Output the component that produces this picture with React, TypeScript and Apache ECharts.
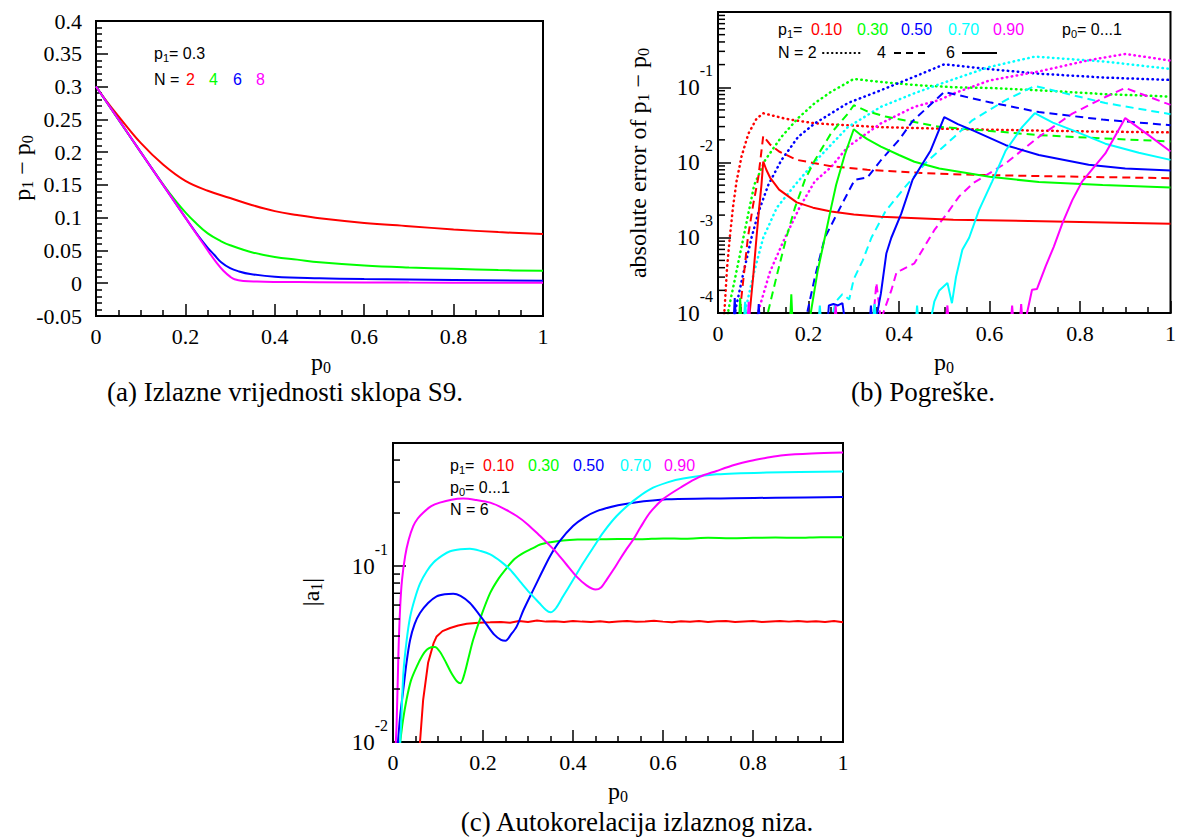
import React, { useEffect, useRef } from "react";
import * as echarts from "echarts";

const RED = "#ff0000";
const GREEN = "#00ff00";
const BLUE = "#0000ff";
const CYAN = "#00ffff";
const MAGENTA = "#ff00ff";

const SERIF = "Liberation Serif";
const SANS = "Liberation Sans";

// ---------- Panel (a): p1 - p0 vs p0, p1 = 0.3 ----------
const aN2 = [[0,0.3],[0.02,0.281],[0.05,0.255],[0.1,0.214],[0.15,0.181],[0.2,0.156],[0.25,0.141],[0.3,0.130],[0.35,0.119],[0.4,0.110],[0.45,0.104],[0.5,0.099],[0.6,0.092],[0.7,0.087],[0.8,0.082],[0.9,0.078],[1,0.075]];
const aN4 = [[0,0.3],[0.05,0.25],[0.1,0.2],[0.15,0.151],[0.18,0.124],[0.2,0.108],[0.22,0.094],[0.25,0.076],[0.28,0.064],[0.3,0.058],[0.35,0.047],[0.4,0.040],[0.45,0.036],[0.5,0.032],[0.6,0.027],[0.7,0.024],[0.8,0.022],[0.9,0.020],[1,0.019]];
const aN6 = [[0,0.3],[0.1,0.2],[0.2,0.1],[0.23,0.071],[0.25,0.054],[0.265,0.043],[0.28,0.032],[0.3,0.023],[0.32,0.018],[0.345,0.014],[0.4,0.0098],[0.5,0.0075],[0.6,0.0063],[0.8,0.005],[1,0.0038]];
const aN8 = [[0,0.3],[0.1,0.2],[0.2,0.1],[0.25,0.05],[0.27,0.031],[0.285,0.019],[0.3,0.010],[0.31,0.006],[0.33,0.0035],[0.36,0.0025],[0.4,0.002],[0.5,0.0015],[0.7,0.001],[1,0.0006]];

// ---------- Panel (b): absolute error, [p0, log10(error)] ----------
const bRedN2 = [[0.008,-4.5],[0.015,-3.9],[0.02,-3.4],[0.026,-3.0],[0.033,-2.6],[0.041,-2.25],[0.052,-1.92],[0.067,-1.62],[0.085,-1.42],[0.1,-1.345],[0.15,-1.42],[0.214,-1.48],[0.3,-1.51],[0.36,-1.53],[0.52,-1.555],[0.7,-1.575],[0.85,-1.59],[1,-1.6]];
const bRedN4 = [[0.04,-4.5],[0.048,-4.0],[0.057,-3.5],[0.066,-3.0],[0.078,-2.55],[0.089,-2.2],[0.095,-1.9],[0.1,-1.646],[0.115,-1.76],[0.135,-1.854],[0.174,-1.965],[0.25,-2.05],[0.33,-2.097],[0.45,-2.14],[0.565,-2.164],[0.8,-2.19],[1,-2.208]];
const bRedN6 = [[0,-4.5],[0.06,-4.3],[0.07,-4.0],[0.078,-3.5],[0.085,-3.0],[0.091,-2.6],[0.096,-2.3],[0.1,-1.987],[0.107,-2.1],[0.115,-2.2],[0.135,-2.36],[0.174,-2.53],[0.21,-2.6],[0.25,-2.65],[0.3,-2.69],[0.36,-2.72],[0.52,-2.76],[0.8,-2.79],[1,-2.814]];

const bGreenN2 = [[0.015,-4.5],[0.023,-3.96],[0.037,-3.56],[0.052,-3.12],[0.067,-2.68],[0.08,-2.3],[0.104,-1.97],[0.14,-1.66],[0.177,-1.41],[0.214,-1.21],[0.25,-1.06],[0.3,-0.89],[0.36,-0.93],[0.434,-0.97],[0.52,-1.0],[0.6,-1.01],[0.709,-1.04],[0.85,-1.09],[1,-1.124]];
const bGreenN4 = [[0.1,-4.5],[0.11,-4.0],[0.13,-3.5],[0.151,-3.0],[0.17,-2.6],[0.184,-2.37],[0.192,-2.23],[0.214,-1.97],[0.25,-1.61],[0.287,-1.35],[0.3,-1.239],[0.33,-1.32],[0.37,-1.39],[0.489,-1.526],[0.6,-1.58],[0.709,-1.636],[0.85,-1.68],[1,-1.72]];
const bGreenN6 = [[0,-4.5],[0.045,-4.3],[0.049,-3.8],[0.053,-4.3],[0.158,-4.3],[0.162,-3.75],[0.166,-4.3],[0.2,-4.3],[0.205,-4.0],[0.22,-3.45],[0.236,-3.0],[0.25,-2.6],[0.261,-2.3],[0.28,-1.9],[0.3,-1.558],[0.315,-1.63],[0.33,-1.69],[0.36,-1.79],[0.4,-1.9],[0.434,-1.99],[0.489,-2.08],[0.6,-2.19],[0.709,-2.26],[0.85,-2.3],[1,-2.332]];

const bBlueN2 = [[0.03,-4.5],[0.037,-4.0],[0.055,-3.5],[0.074,-3.0],[0.09,-2.65],[0.111,-2.3],[0.14,-1.97],[0.177,-1.66],[0.214,-1.48],[0.287,-1.21],[0.36,-1.04],[0.434,-0.86],[0.5,-0.695],[0.6,-0.76],[0.709,-0.82],[0.85,-0.87],[1,-0.903]];
const bBlueN4 = [[0.19,-4.5],[0.197,-4.0],[0.215,-3.5],[0.236,-3.0],[0.27,-2.6],[0.302,-2.23],[0.33,-2.2],[0.36,-1.97],[0.4,-1.7],[0.43,-1.45],[0.5,-1.062],[0.6,-1.2],[0.709,-1.33],[0.85,-1.43],[1,-1.504]];
const bBlueN6 = [[0,-4.5],[0.033,-4.3],[0.037,-3.8],[0.041,-4.3],[0.086,-4.3],[0.09,-3.88],[0.094,-4.3],[0.24,-4.3],[0.245,-3.9],[0.255,-3.88],[0.265,-3.9],[0.275,-3.87],[0.285,-4.3],[0.333,-4.3],[0.338,-3.9],[0.343,-4.3],[0.352,-4.0],[0.36,-3.74],[0.372,-3.21],[0.383,-3.0],[0.405,-2.68],[0.43,-2.23],[0.47,-1.84],[0.5,-1.398],[0.53,-1.49],[0.562,-1.57],[0.636,-1.77],[0.709,-1.9],[0.819,-2.03],[0.9,-2.08],[1,-2.106]];

const bCyanN2 = [[0.05,-4.5],[0.059,-4.0],[0.08,-3.45],[0.1,-3.0],[0.13,-2.6],[0.17,-2.3],[0.214,-1.99],[0.287,-1.53],[0.36,-1.26],[0.434,-1.08],[0.489,-0.96],[0.6,-0.73],[0.7,-0.593],[0.856,-0.66],[1,-0.757]];
const bCyanN4 = [[0.24,-4.5],[0.25,-4.1],[0.26,-3.85],[0.275,-3.75],[0.29,-3.82],[0.3,-3.55],[0.32,-3.3],[0.339,-3.0],[0.37,-2.65],[0.41,-2.35],[0.46,-2.0],[0.522,-1.66],[0.562,-1.44],[0.636,-1.17],[0.7,-0.982],[0.78,-1.1],[0.856,-1.21],[1,-1.358]];
const bCyanN6 = [[0,-4.5],[0.055,-4.3],[0.06,-3.85],[0.065,-4.3],[0.22,-4.3],[0.225,-3.9],[0.23,-4.3],[0.34,-4.3],[0.346,-3.88],[0.352,-4.3],[0.435,-4.3],[0.44,-3.9],[0.445,-4.3],[0.47,-4.1],[0.478,-3.85],[0.489,-3.7],[0.507,-3.6],[0.517,-3.87],[0.526,-3.52],[0.54,-3.16],[0.555,-3.0],[0.577,-2.63],[0.606,-2.25],[0.636,-1.84],[0.672,-1.53],[0.7,-1.345],[0.74,-1.47],[0.783,-1.57],[0.856,-1.75],[0.93,-1.87],[1,-1.965]];

const bMagN2 = [[0.08,-4.5],[0.088,-4.0],[0.115,-3.45],[0.148,-3.0],[0.18,-2.6],[0.214,-2.25],[0.25,-2.06],[0.287,-1.79],[0.36,-1.48],[0.434,-1.26],[0.489,-1.17],[0.522,-1.08],[0.6,-0.91],[0.709,-0.79],[0.82,-0.64],[0.9,-0.558],[1,-0.646]];
const bMagN4 = [[0.3,-4.5],[0.34,-4.3],[0.35,-3.6],[0.36,-4.1],[0.368,-3.95],[0.383,-3.7],[0.395,-3.45],[0.405,-3.43],[0.434,-3.34],[0.456,-3.12],[0.478,-2.9],[0.507,-2.67],[0.533,-2.45],[0.565,-2.27],[0.636,-2.01],[0.709,-1.66],[0.783,-1.35],[0.856,-1.13],[0.9,-1.009],[1,-1.235]];
const bMagN6 = [[0,-4.5],[0.063,-4.3],[0.068,-3.85],[0.073,-4.3],[0.255,-4.3],[0.26,-3.9],[0.265,-4.3],[0.5,-4.3],[0.507,-3.9],[0.512,-4.3],[0.645,-4.3],[0.65,-3.9],[0.655,-4.3],[0.665,-4.3],[0.67,-3.88],[0.675,-4.3],[0.683,-4.0],[0.694,-3.69],[0.705,-3.68],[0.724,-3.38],[0.742,-3.12],[0.761,-2.81],[0.783,-2.5],[0.805,-2.25],[0.856,-1.88],[0.9,-1.41],[0.95,-1.63],[1,-1.854]];

// ---------- Panel (c): |a1|, [p0, log10(|a1|)] ----------
const cRed = [[0.058,-2.1],[0.06,-2.0],[0.067,-1.76],[0.078,-1.55],[0.09,-1.44],[0.097,-1.40],[0.11,-1.37],[0.127,-1.352],[0.145,-1.338],[0.164,-1.328],[0.19,-1.322],[0.216,-1.32],[0.24,-1.318],[0.26,-1.322],[0.28,-1.312],[0.3,-1.318],[0.32,-1.31],[0.34,-1.316],[0.36,-1.314],[0.38,-1.318],[0.4,-1.312],[0.42,-1.316],[0.44,-1.318],[0.46,-1.314],[0.48,-1.32],[0.5,-1.315],[0.52,-1.312],[0.54,-1.317],[0.56,-1.315],[0.58,-1.311],[0.6,-1.316],[0.62,-1.32],[0.64,-1.314],[0.66,-1.317],[0.68,-1.313],[0.7,-1.318],[0.72,-1.314],[0.74,-1.312],[0.76,-1.318],[0.78,-1.315],[0.8,-1.313],[0.82,-1.318],[0.84,-1.315],[0.86,-1.312],[0.88,-1.316],[0.9,-1.313],[0.92,-1.317],[0.94,-1.314],[0.96,-1.318],[0.98,-1.313],[1,-1.32]];
const cGreen = [[0.012,-2.1],[0.016,-2.0],[0.022,-1.88],[0.03,-1.76],[0.04,-1.65],[0.053,-1.57],[0.065,-1.51],[0.075,-1.476],[0.085,-1.462],[0.093,-1.46],[0.105,-1.49],[0.118,-1.55],[0.13,-1.61],[0.142,-1.655],[0.15,-1.666],[0.158,-1.62],[0.168,-1.52],[0.178,-1.42],[0.195,-1.29],[0.216,-1.153],[0.235,-1.07],[0.253,-1.01],[0.27,-0.96],[0.29,-0.925],[0.31,-0.9],[0.327,-0.878],[0.35,-0.865],[0.378,-0.855],[0.41,-0.85],[0.44,-0.849],[0.5,-0.846],[0.55,-0.848],[0.6,-0.843],[0.65,-0.845],[0.7,-0.84],[0.75,-0.842],[0.8,-0.84],[0.85,-0.838],[0.9,-0.84],[0.95,-0.836],[1,-0.836]];
const cBlue = [[0.008,-2.1],[0.011,-2.0],[0.016,-1.85],[0.023,-1.70],[0.03,-1.55],[0.038,-1.42],[0.048,-1.33],[0.06,-1.267],[0.078,-1.21],[0.097,-1.172],[0.115,-1.16],[0.134,-1.157],[0.15,-1.17],[0.171,-1.21],[0.19,-1.27],[0.208,-1.333],[0.225,-1.39],[0.24,-1.42],[0.25,-1.425],[0.262,-1.39],[0.275,-1.343],[0.29,-1.25],[0.312,-1.134],[0.33,-1.04],[0.349,-0.944],[0.37,-0.86],[0.4,-0.773],[0.425,-0.725],[0.453,-0.688],[0.5,-0.655],[0.534,-0.64],[0.608,-0.621],[0.7,-0.617],[0.756,-0.615],[0.85,-0.612],[1,-0.608]];
const cCyan = [[0.01,-2.1],[0.016,-2.0],[0.023,-1.61],[0.03,-1.43],[0.038,-1.29],[0.048,-1.19],[0.06,-1.10],[0.075,-1.03],[0.09,-0.98],[0.11,-0.94],[0.127,-0.916],[0.15,-0.905],[0.171,-0.902],[0.195,-0.915],[0.216,-0.934],[0.24,-0.975],[0.26,-1.02],[0.283,-1.09],[0.304,-1.153],[0.325,-1.21],[0.34,-1.25],[0.35,-1.263],[0.362,-1.24],[0.378,-1.172],[0.4,-1.08],[0.423,-0.982],[0.445,-0.895],[0.467,-0.81],[0.497,-0.716],[0.534,-0.63],[0.571,-0.564],[0.61,-0.525],[0.645,-0.503],[0.719,-0.479],[0.83,-0.469],[1,-0.463]];
const cMag = [[0.004,-2.1],[0.008,-1.9],[0.012,-1.5],[0.016,-1.23],[0.02,-1.08],[0.027,-0.944],[0.035,-0.85],[0.045,-0.773],[0.055,-0.73],[0.067,-0.697],[0.085,-0.66],[0.104,-0.64],[0.13,-0.623],[0.156,-0.617],[0.185,-0.625],[0.216,-0.64],[0.245,-0.672],[0.275,-0.716],[0.3,-0.765],[0.327,-0.83],[0.345,-0.875],[0.364,-0.925],[0.385,-0.99],[0.408,-1.06],[0.43,-1.11],[0.45,-1.134],[0.463,-1.12],[0.475,-1.077],[0.49,-1.02],[0.504,-0.963],[0.52,-0.9],[0.534,-0.849],[0.55,-0.78],[0.571,-0.697],[0.6,-0.62],[0.645,-0.545],[0.68,-0.495],[0.719,-0.46],[0.76,-0.425],[0.793,-0.403],[0.83,-0.385],[0.867,-0.37],[0.93,-0.36],[1,-0.355]];

// legend labels
const p1Labels = ["0.10", "0.30", "0.50", "0.70", "0.90"];
const p1Colors = [RED, GREEN, BLUE, CYAN, MAGENTA];
const nLabelsA = ["2", "4", "6", "8"];
const nColorsA = [RED, GREEN, BLUE, MAGENTA];

const fromLog = (pts: number[][]) => pts.map(([x, e]) => [x, Math.pow(10, e)]);

const DOT = { type: [0.5, 4.5], cap: "round", width: 2.5 };
const DASH = { type: [8, 5], cap: "butt", width: 2 };
const SOLID = { type: "solid", width: 2 };

function lineSeries(idx: number, data: number[][], color: string, style: any, smooth: number | boolean = false) {
  return {
    type: "line",
    xAxisIndex: idx,
    yAxisIndex: idx,
    data,
    showSymbol: false,
    symbol: "none",
    clip: true,
    silent: true,
    smooth,
    lineStyle: { color, ...style },
    z: 3,
  };
}

const numRich = { t: { fontFamily: SERIF, fontSize: 22, color: "#000", fill: "#000" } };
const numFormatter = (v: number) => {
  const s = String(Math.round(v * 1000) / 1000);
  return `{t|${s}}`;
};

function xAxis(gridIndex: number) {
  return {
    type: "value",
    gridIndex,
    min: 0,
    max: 1,
    interval: 0.2,
    axisLine: { show: true, onZero: false, lineStyle: { color: "#000", width: 2 } },
    axisTick: { show: true, inside: true, length: 12, lineStyle: { color: "#000", width: 1.5 } },
    minorTick: { show: true, splitNumber: 4, length: 6, lineStyle: { color: "#000", width: 1.5 } },
    splitLine: { show: false },
    minorSplitLine: { show: false },
    axisLabel: { color: "#000", fontFamily: SERIF, fontSize: 22, margin: 9, formatter: numFormatter, rich: numRich },
  };
}

const expFormatter = (v: number) => {
  const e = Math.log10(v);
  const r = Math.round(e);
  if (Math.abs(e - r) > 1e-6 || r === 0) return "";
  return `{b|10}{s|${r}}`;
};

function logYAxis(gridIndex: number, min: number, max: number) {
  return {
    type: "log",
    logBase: 10,
    gridIndex,
    min,
    max,
    axisLine: { show: true, onZero: false, lineStyle: { color: "#000", width: 2 } },
    axisTick: { show: true, inside: true, length: 13, lineStyle: { color: "#000", width: 1.5 } },
    splitLine: { show: false },
    axisLabel: {
      color: "#000",
      fontFamily: SERIF,
      margin: 5,
      formatter: expFormatter,
      rich: {
        b: { fontFamily: SERIF, fontSize: 23, color: "#000", fill: "#000", lineHeight: 50 },
        s: { fontFamily: SERIF, fontSize: 16, color: "#000", fill: "#000", lineHeight: 16, verticalAlign: "top" },
      },
    },
  };
}

function minorLogTicks(idx: number, decades: number[], maxV: number) {
  const vals: number[] = [];
  decades.forEach((d) => {
    for (let m = 2; m <= 9; m++) {
      const v = m * Math.pow(10, d);
      if (v < maxV) vals.push(v);
    }
  });
  return {
    type: "custom",
    xAxisIndex: idx,
    yAxisIndex: idx,
    silent: true,
    z: 5,
    data: vals.map((v) => [0, v]),
    renderItem: (_p: any, api: any) => {
      const pt = api.coord([0, api.value(1)]);
      return {
        type: "line",
        shape: { x1: pt[0], y1: pt[1], x2: pt[0] + 7, y2: pt[1] },
        style: { stroke: "#000", lineWidth: 1.5 },
      };
    },
  };
}

function txt(x: number, y: number, text: string, rich: any, opts: any = {}) {
  return {
    type: "text",
    x,
    y,
    rotation: opts.rotation || 0,
    z: 100,
    style: {
      text,
      rich,
      fill: "#000",
      align: opts.align || "left",
      textAlign: opts.align || "left",
      verticalAlign: "middle",
      textVerticalAlign: "middle",
    },
  };
}

const serifRich = (size: number, sub: number) => ({
  i: { fontFamily: SERIF, fontSize: size, fill: "#000", color: "#000", lineHeight: size + 2 },
  sub: { fontFamily: SERIF, fontSize: sub, fill: "#000", color: "#000", lineHeight: sub, verticalAlign: "bottom" },
});

const sansRich = (color: string) => ({
  k: { fontFamily: SANS, fontSize: 16, fill: color, color, lineHeight: 20 },
  sub: { fontFamily: SANS, fontSize: 11, fill: color, color, lineHeight: 11, verticalAlign: "bottom" },
});

function sansText(x: number, y: number, text: string, color = "#000") {
  return txt(x, y, text, sansRich(color));
}

function buildOption() {
  const graphics: any[] = [];

  // Panel (a) legend
  graphics.push(sansText(154, 53, "{k|p}{sub|1}{k|= 0.3}"));
  graphics.push(sansText(154, 79, "{k|N =}"));
  const aXs = [186, 209, 233, 256];
  nLabelsA.forEach((l, i) => graphics.push(sansText(aXs[i], 79, `{k|${l}}`, nColorsA[i])));

  // Panel (b) legend
  graphics.push(sansText(778, 29, "{k|p}{sub|1}{k|=}"));
  const bXs = [811, 857, 901, 948, 993];
  p1Labels.forEach((l, i) => graphics.push(sansText(bXs[i], 29, `{k|${l}}`, p1Colors[i])));
  graphics.push(sansText(1062, 29, "{k|p}{sub|0}{k|= 0...1}"));
  graphics.push(sansText(778, 52, "{k|N = 2}"));
  graphics.push({ type: "line", z: 100, shape: { x1: 823, y1: 53, x2: 860, y2: 53 }, style: { stroke: "#000", lineWidth: 2, lineDash: [0.5, 4], lineCap: "round" } });
  graphics.push(sansText(877, 52, "{k|4}"));
  graphics.push({ type: "line", z: 100, shape: { x1: 894, y1: 53, x2: 928, y2: 53 }, style: { stroke: "#000", lineWidth: 2, lineDash: [7, 5] } });
  graphics.push(sansText(946, 52, "{k|6}"));
  graphics.push({ type: "line", z: 100, shape: { x1: 962, y1: 53, x2: 997, y2: 53 }, style: { stroke: "#000", lineWidth: 2 } });

  // Panel (c) legend
  graphics.push(sansText(450, 465, "{k|p}{sub|1}{k|=}"));
  const cXs = [483, 528, 573, 620, 664];
  p1Labels.forEach((l, i) => graphics.push(sansText(cXs[i], 465, `{k|${l}}`, p1Colors[i])));
  graphics.push(sansText(450, 487, "{k|p}{sub|0}{k|= 0...1}"));
  graphics.push(sansText(450, 509, "{k|N = 6}"));

  // Axis titles
  const r24 = serifRich(24, 16);
  graphics.push(txt(22, 168, "{i|p}{sub|1}{i| − p}{sub|0}", r24, { rotation: Math.PI / 2, align: "center" }));
  graphics.push(txt(321, 362, "{i|p}{sub|0}", r24, { align: "center" }));
  graphics.push(txt(638, 163, "{i|absolute error of p}{sub|1}{i| − p}{sub|0}", r24, { rotation: Math.PI / 2, align: "center" }));
  graphics.push(txt(944, 362, "{i|p}{sub|0}", r24, { align: "center" }));
  graphics.push(txt(311, 592, "{i||a}{sub|1}{i||}", r24, { rotation: Math.PI / 2, align: "center" }));
  graphics.push(txt(618, 791, "{i|p}{sub|0}", r24, { align: "center" }));

  // Captions
  const capRich = { i: { fontFamily: SERIF, fontSize: 27, fill: "#000", color: "#000", lineHeight: 28 } };
  graphics.push(txt(285, 392, "{i|(a) Izlazne vrijednosti sklopa S9.}", capRich, { align: "center" }));
  graphics.push(txt(923, 392, "{i|(b) Pogreške.}", capRich, { align: "center" }));
  graphics.push(txt(637, 822, "{i|(c) Autokorelacija izlaznog niza.}", capRich, { align: "center" }));

  const gridStyle = { show: true, borderColor: "#000", borderWidth: 2, backgroundColor: "transparent" };

  const series: any[] = [
    lineSeries(0, aN2, RED, SOLID, 0.4),
    lineSeries(0, aN4, GREEN, SOLID, 0.4),
    lineSeries(0, aN6, BLUE, SOLID, 0.4),
    lineSeries(0, aN8, MAGENTA, SOLID, 0.4),

    lineSeries(1, fromLog(bRedN2), RED, DOT),
    lineSeries(1, fromLog(bGreenN2), GREEN, DOT),
    lineSeries(1, fromLog(bBlueN2), BLUE, DOT),
    lineSeries(1, fromLog(bCyanN2), CYAN, DOT),
    lineSeries(1, fromLog(bMagN2), MAGENTA, DOT),
    lineSeries(1, fromLog(bRedN4), RED, DASH),
    lineSeries(1, fromLog(bGreenN4), GREEN, DASH),
    lineSeries(1, fromLog(bBlueN4), BLUE, DASH),
    lineSeries(1, fromLog(bCyanN4), CYAN, DASH),
    lineSeries(1, fromLog(bMagN4), MAGENTA, DASH),
    lineSeries(1, fromLog(bRedN6), RED, SOLID),
    lineSeries(1, fromLog(bGreenN6), GREEN, SOLID),
    lineSeries(1, fromLog(bBlueN6), BLUE, SOLID),
    lineSeries(1, fromLog(bCyanN6), CYAN, SOLID),
    lineSeries(1, fromLog(bMagN6), MAGENTA, SOLID),

    lineSeries(2, fromLog(cRed), RED, SOLID),
    lineSeries(2, fromLog(cGreen), GREEN, SOLID, 0.3),
    lineSeries(2, fromLog(cBlue), BLUE, SOLID, 0.3),
    lineSeries(2, fromLog(cCyan), CYAN, SOLID, 0.3),
    lineSeries(2, fromLog(cMag), MAGENTA, SOLID, 0.3),

    minorLogTicks(1, [-4, -3, -2, -1], 1),
    minorLogTicks(2, [-2, -1], 0.5),
  ];

  return {
    animation: false,
    backgroundColor: "#ffffff",
    textStyle: { fontFamily: SERIF, color: "#000" },
    grid: [
      { left: 96, top: 21, width: 447, height: 295, ...gridStyle },
      { left: 718, top: 12, width: 455, height: 301, ...gridStyle },
      { left: 393, top: 443, width: 450, height: 299, ...gridStyle },
    ],
    xAxis: [xAxis(0), xAxis(1), xAxis(2)],
    yAxis: [
      {
        type: "value",
        gridIndex: 0,
        min: -0.05,
        max: 0.4,
        interval: 0.05,
        axisLine: { show: true, onZero: false, lineStyle: { color: "#000", width: 2 } },
        axisTick: { show: true, inside: true, length: 12, lineStyle: { color: "#000", width: 1.5 } },
        minorTick: { show: true, splitNumber: 5, length: 6, lineStyle: { color: "#000", width: 1.5 } },
        splitLine: { show: false },
        minorSplitLine: { show: false },
        axisLabel: { color: "#000", fontFamily: SERIF, fontSize: 22, margin: 14, formatter: numFormatter, rich: numRich },
      },
      logYAxis(1, 1e-4, 1),
      logYAxis(2, 0.01, 0.5),
    ],
    series,
    graphic: graphics,
  };
}

export default function App() {
  const ref = useRef<HTMLDivElement>(null);
  useEffect(() => {
    document.body.style.margin = "0";
    const chart = echarts.init(ref.current as HTMLDivElement, null, { renderer: "svg" });
    chart.setOption(buildOption() as any);
    return () => chart.dispose();
  }, []);
  return <div ref={ref} style={{ width: 1179, height: 838, background: "#fff" }} />;
}
